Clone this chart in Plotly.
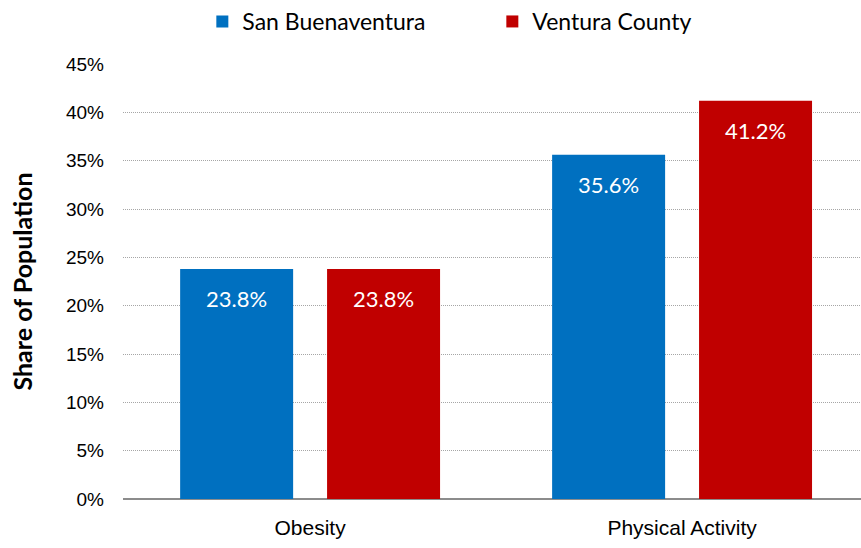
import plotly.graph_objects as go

categories = ["Obesity", "Physical Activity"]
san_buenaventura = [23.8, 35.6]
ventura_county = [23.8, 41.2]
y_ticks = [0, 5, 10, 15, 20, 25, 30, 35, 40, 45]

series = [
    ("San Buenaventura", san_buenaventura, "#0070C0"),
    ("Ventura County", ventura_county, "#C00000"),
]

SANS = "Lato, Carlito, Calibri, sans-serif"
ARIAL = "Liberation Sans, Arial, sans-serif"

fig = go.Figure()
for name, vals, color in series:
    fig.add_trace(go.Bar(
        name=name, x=categories, y=vals,
        marker=dict(color=color, line=dict(width=0)),
    ))

BARGAP = 0.21
# value labels just below the top of each bar
slot = (1 - BARGAP) / 2
offsets = [-slot / 2, slot / 2]
for (name, vals, color), dx in zip(series, offsets):
    for i, v in enumerate(vals):
        fig.add_annotation(
            x=i + dx, y=v, xref="x", yref="y", text=f"{v:.1f}%",
            showarrow=False, yshift=-30,
            font=dict(family=SANS, size=22, color="white"),
        )

fig.update_layout(
    width=861, height=548,
    margin=dict(l=123, r=0, t=64, b=49),
    paper_bgcolor="white", plot_bgcolor="white",
    barmode="group", bargap=BARGAP, bargroupgap=0.231,
    showlegend=True,
    legend=dict(
        orientation="h", xref="container", x=0.235, xanchor="left",
        yref="container", y=1.0, yanchor="top",
        font=dict(family=SANS, size=23, color="black"),
        entrywidth=245, entrywidthmode="pixels",
        itemwidth=30, traceorder="normal",
    ),
    xaxis=dict(
        type="category", range=[-0.503, 1.481],
        tickfont=dict(family=ARIAL, size=21, color="black"),
        showgrid=False, showline=False, ticks="",
        ticklabelstandoff=14,
    ),
    yaxis=dict(
        range=[0, 45], tickvals=y_ticks, ticktext=[f"{t}%" for t in y_ticks],
        tickfont=dict(family=ARIAL, size=19, color="black"),
        showgrid=True, gridcolor="#A6A6A6", griddash="1px,1px", gridwidth=1,
        zeroline=True, zerolinecolor="#8C8C8C", zerolinewidth=2,
        ticks="", ticklabelstandoff=18,
        title=dict(text="<b>Share of Population</b>",
                   font=dict(family=SANS, size=25, color="black"),
                   standoff=26),
    ),
)

fig.write_html("out.html")
